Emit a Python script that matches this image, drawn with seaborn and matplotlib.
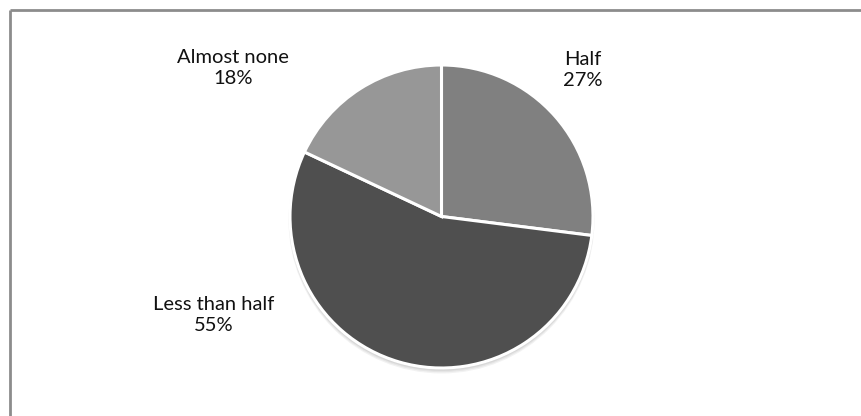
import matplotlib
matplotlib.use("Agg")
import matplotlib.pyplot as plt
import seaborn as sns
from matplotlib.patches import Circle

sns.set_theme(style="white")
plt.rcParams["font.family"] = ["Lato", "DejaVu Sans"]

categories = ["Half", "Less than half", "Almost none"]
shares = [27, 55, 18]
colors = ["#808080", "#4f4f4f", "#979797"]

W, H = 862, 416
fig = plt.figure(figsize=(W / 100, H / 100), dpi=100)
fig.patch.set_facecolor("white")
ax = fig.add_axes([0, 0, 1, 1])

cx, cy, r = 441.5, H - 216.5, 151.5

# soft drop shadow under the pie
for i, a in enumerate([0.05, 0.05, 0.06, 0.08]):
    off = 4 - i
    ax.add_patch(Circle((cx, cy - off), r + 1.5 - i * 0.3, color="black", alpha=a, lw=0, zorder=1))

wedges, _ = ax.pie(
    shares,
    colors=colors,
    startangle=90,
    counterclock=False,
    center=(cx, cy),
    radius=r,
    wedgeprops=dict(edgecolor="white", linewidth=2.2),
    frame=True,
)
for w in wedges:
    w.set_zorder(2)
ax.set_xlim(0, W)
ax.set_ylim(0, H)
ax.set_aspect("equal")
ax.axis("off")

# category labels with percentages
label_pos = {
    "Half": (583, 70),
    "Less than half": (214, 315),
    "Almost none": (233, 68),
}
for cat, val in zip(categories, shares):
    x, y = label_pos[cat]
    ax.text(x, H - y, f"{cat}\n{val}%", ha="center", va="center",
            fontsize=14.5, color="#111111", linespacing=1.3, zorder=3)

# frame lines along top and left
ax.plot([10, W], [H - 10, H - 10], color="#8c8c8c", lw=2, solid_capstyle="butt", zorder=4)
ax.plot([10, 10], [H - 10, 0], color="#8c8c8c", lw=2, solid_capstyle="butt", zorder=4)

fig.savefig("out.png", dpi=100, facecolor="white")
